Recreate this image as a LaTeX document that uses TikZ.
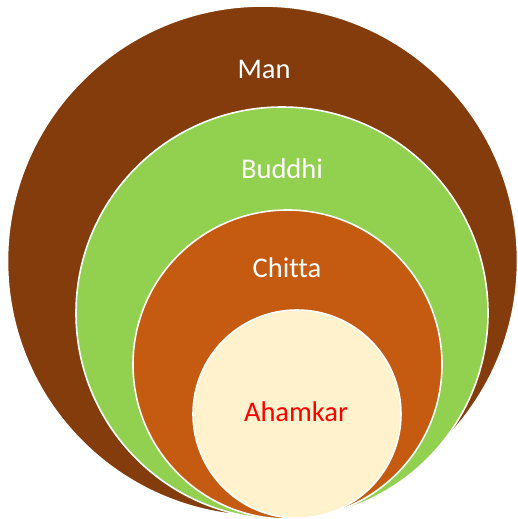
\documentclass[tikz,border=0pt]{standalone}
\usepackage{fontspec}
\setmainfont[Ligatures={NoCommon}]{Carlito}
\definecolor{manbrown}{HTML}{843C0C}
\definecolor{buddhigreen}{HTML}{92D050}
\definecolor{chittaorange}{HTML}{C55A11}
\definecolor{ahamcream}{HTML}{FFF2CC}
\begin{document}
\begin{tikzpicture}[x=1pt,y=-1pt,
  ring/.style={circle,draw=white,line width=1.6pt,inner sep=0pt},
  lbl/.style={font=\fontsize{28.5}{32}\selectfont,text=white}]
\useasboundingbox (0,0) rectangle (517,519);
\node[ring,fill=manbrown,minimum size=510pt] (man) at (262.5,261) {};
\node[ring,fill=buddhigreen,minimum size=412pt] (buddhi) at (282,313) {};
\node[ring,fill=chittaorange,minimum size=309pt] (chitta) at (287.5,364.5) {};
\node[ring,fill=ahamcream,minimum size=208pt] (aham) at (297,414) {};
\node[lbl] (tman) at (264,69) {Man};
\node[lbl] (tbuddhi) at (282,169) {Buddhi};
\node[lbl] (tchitta) at (287,268) {Chitta};
\node[lbl,text=red] (taham) at (296,412) {Ahamkar};
\end{tikzpicture}
\end{document}
